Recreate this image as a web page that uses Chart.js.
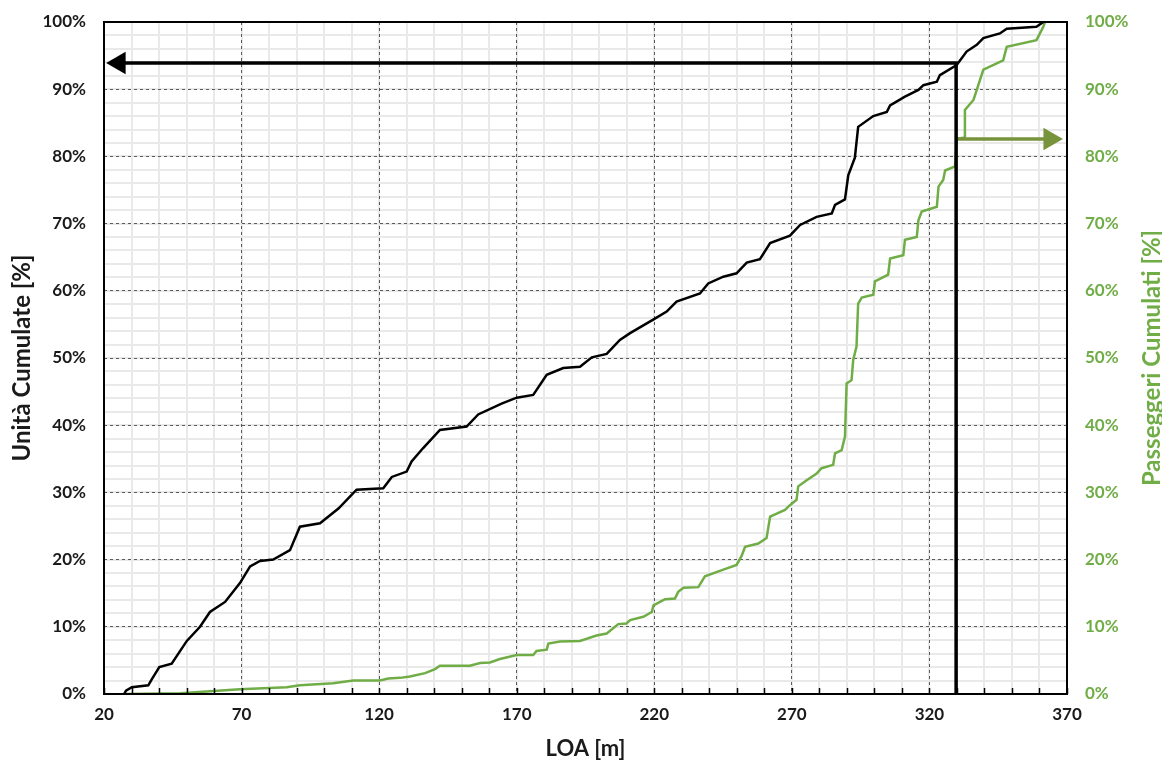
<!DOCTYPE html>
<html>
<head>
<meta charset="utf-8">
<script src="https://cdn.jsdelivr.net/npm/chart.js@4.4.1/dist/chart.umd.min.js"></script>
<style>
  html, body { margin: 0; padding: 0; background: #ffffff; }
  #wrap { width: 1162px; height: 764px; }
</style>
</head>
<body>
<div id="wrap"><canvas id="c" width="1162" height="764"></canvas></div>
<script>
// ---- Data ----
const unitsLOA = [27.3, 28.0, 30.1, 36.1, 37.4, 40.1, 44.6, 50.1, 54.9, 58.5, 64.0, 69.4, 73.1, 76.7, 81.5, 87.6, 91.2, 98.5, 105.2, 111.8, 121.5, 124.6, 130.0, 131.8, 136.0, 142.1, 151.8, 156.0, 164.5, 170.0, 176.0, 180.9, 186.9, 193.0, 197.3, 202.7, 207.5, 211.2, 219.6, 224.5, 228.1, 236.6, 239.6, 245.1, 249.9, 253.6, 258.4, 262.1, 269.3, 273.0, 279.0, 284.5, 285.7, 289.3, 290.5, 292.9, 294.1, 299.6, 304.5, 305.7, 311.1, 316.0, 317.8, 322.7, 323.8, 329.9, 333.5, 337.2, 339.6, 345.6, 348.1, 358.9, 361.4];
const unitsPct = [0, 0.5, 1.0, 1.3, 2.2, 4.0, 4.5, 7.9, 10.0, 12.2, 13.7, 16.5, 19.0, 19.8, 20.0, 21.4, 24.9, 25.4, 27.6, 30.4, 30.6, 32.3, 33.1, 34.6, 36.6, 39.3, 39.8, 41.6, 43.2, 44.1, 44.5, 47.5, 48.5, 48.7, 50.1, 50.6, 52.7, 53.7, 55.7, 56.9, 58.4, 59.6, 61.1, 62.1, 62.6, 64.2, 64.7, 67.1, 68.2, 69.8, 71.0, 71.5, 72.8, 73.6, 77.2, 79.8, 84.4, 86.0, 86.6, 87.6, 88.9, 89.9, 90.6, 91.1, 92.1, 93.6, 95.6, 96.6, 97.6, 98.3, 99.0, 99.3, 100];

const paxLOA = [27.6, 47.6, 69.4, 86.4, 91.2, 103.3, 110.6, 120.3, 123.3, 127.6, 131.2, 136.7, 140.3, 142.1, 153.0, 156.7, 160.3, 163.9, 170.0, 176.0, 177.2, 180.9, 181.5, 185.7, 193.0, 199.0, 202.7, 206.9, 209.9, 211.2, 216.0, 219.1, 219.7, 223.9, 227.5, 228.7, 230.6, 236.0, 238.4, 245.1, 249.9, 251.7, 253.0, 257.8, 260.8, 262.1, 267.5, 269.3, 271.7, 272.3, 275.4, 279.0, 280.8, 285.0, 285.7, 288.1, 289.3, 289.9, 291.7, 292.3, 293.5, 294.1, 295.4, 299.6, 300.2, 305.0, 305.7, 310.5, 311.1, 315.4, 316.0, 317.2, 322.7, 323.3, 325.0, 325.7, 329.3, 329.9, 332.9, 332.9, 336.0, 337.2, 339.6, 346.8, 348.1, 358.9, 361.4, 362.0];
const paxPct = [0, 0.1, 0.7, 1.0, 1.3, 1.6, 2.0, 2.0, 2.3, 2.4, 2.6, 3.1, 3.7, 4.2, 4.2, 4.6, 4.7, 5.2, 5.8, 5.8, 6.4, 6.6, 7.5, 7.8, 7.9, 8.7, 9.0, 10.4, 10.5, 11.0, 11.5, 12.2, 13.2, 14.1, 14.2, 15.2, 15.8, 15.9, 17.5, 18.5, 19.2, 20.5, 21.9, 22.4, 23.2, 26.4, 27.4, 28.1, 28.9, 30.9, 31.8, 32.8, 33.6, 34.1, 35.8, 36.3, 38.3, 46.2, 46.7, 49.7, 51.7, 58.1, 59.0, 59.4, 61.4, 62.4, 64.8, 65.3, 67.6, 68.0, 70.5, 71.8, 72.5, 75.5, 76.5, 77.9, 78.5, 82.6, 82.8, 86.9, 88.4, 89.9, 92.9, 94.3, 96.3, 97.3, 99.3, 100];

// reference lines (LOA 330 m -> 94% units, 82.6% passengers)
const unitsRefLOA = [329.7, 329.7, 25.5];
const unitsRefPct = [0, 93.9, 93.9];
const paxRefLOA = [329.7, 363.8];
const paxRefPct = [82.6, 82.6];

// axes
const xMin = 20, xMax = 370, xStep = 50, xMinorStep = 10;
const yMin = 0, yMax = 100, yStep = 10, yMinorStep = 2;

const toPts = (xs, ys) => xs.map((x, i) => ({x: x, y: ys[i]}));

const FONT = 'Lato, "Open Sans", sans-serif';
const GREEN = '#70AD47';
const OLIVE = '#77933C';

const framePlugin = {
  id: 'frame',
  afterDatasetsDraw(chart) {
    const {ctx, chartArea: a} = chart;
    const xs = chart.scales.xMinor;
    ctx.save();
    ctx.strokeStyle = '#000';
    ctx.lineWidth = 1.5;
    xs.ticks.forEach(t => {
      const px = Math.round(xs.getPixelForValue(t.value)) + 0.5;
      ctx.beginPath();
      ctx.moveTo(px, a.bottom);
      ctx.lineTo(px, a.bottom - 6);
      ctx.stroke();
    });
    ctx.lineWidth = 2;
    ctx.strokeRect(a.left, a.top, a.right - a.left, a.bottom - a.top);
    ctx.restore();
  },
  afterDraw(chart) {
    const {ctx, chartArea: a} = chart;
    ctx.save();
    ctx.translate(1152, (a.top + a.bottom) / 2);
    ctx.rotate(-Math.PI / 2);
    ctx.font = 'bold 24px ' + FONT;
    ctx.fillStyle = GREEN;
    ctx.textAlign = 'center';
    ctx.textBaseline = 'middle';
    ctx.fillText('Passeggeri Cumulati [%]', 0, 0);
    ctx.restore();
  }
};

new Chart(document.getElementById('c'), {
  type: 'line',
  data: {
    datasets: [
      {
        label: 'rif. unità',
        data: toPts(unitsRefLOA, unitsRefPct),
        yAxisID: 'y', xAxisID: 'x',
        borderColor: '#000', backgroundColor: '#000',
        borderWidth: 3.5,
        pointRadius: [0, 0, 13],
        pointStyle: 'triangle',
        pointRotation: 270,
        pointBorderWidth: 0,
        clip: false,
        tension: 0
      },
      {
        label: 'rif. passeggeri',
        data: toPts(paxRefLOA, paxRefPct),
        yAxisID: 'y2', xAxisID: 'x',
        borderColor: OLIVE, backgroundColor: OLIVE,
        borderWidth: 3.5,
        pointRadius: [0, 13],
        pointStyle: 'triangle',
        pointRotation: 90,
        pointBorderWidth: 0,
        clip: false,
        tension: 0
      },
      {
        label: 'Unità Cumulate',
        data: toPts(unitsLOA, unitsPct),
        yAxisID: 'y', xAxisID: 'x',
        borderColor: '#000',
        borderWidth: 2.5,
        pointRadius: 0,
        tension: 0
      },
      {
        label: 'Passeggeri Cumulati',
        data: toPts(paxLOA, paxPct),
        yAxisID: 'y2', xAxisID: 'x',
        borderColor: GREEN,
        borderWidth: 2.5,
        pointRadius: 0,
        tension: 0
      }
    ]
  },
  options: {
    responsive: false,
    animation: false,
    layout: { padding: { top: 22, left: 0, right: 0, bottom: 0 } },
    plugins: { legend: { display: false }, tooltip: { enabled: false } },
    scales: {
      x: {
        type: 'linear', position: 'bottom',
        min: xMin, max: xMax,
        ticks: { stepSize: xStep, color: '#1a1a1a', padding: 10, font: { family: FONT, size: 17, weight: 'bold' } },
        grid: { color: '#5a5a5a', lineWidth: 1, drawTicks: false, z: -1 },
        border: { display: false, dash: [3, 3] },
        title: { display: true, text: 'LOA [m]', color: '#1a1a1a', padding: { top: 0, bottom: 2 }, font: { family: FONT, size: 22, weight: 'bold' } },
        afterFit: s => { s.height = 70; }
      },
      xMinor: {
        type: 'linear', position: 'bottom',
        min: xMin, max: xMax,
        ticks: { stepSize: xMinorStep, display: false },
        grid: { color: '#e9e9e9', lineWidth: 2, drawTicks: false, z: -2 },
        border: { display: false },
        afterFit: s => { s.height = 0; }
      },
      y: {
        type: 'linear', position: 'left',
        min: yMin, max: yMax,
        ticks: { stepSize: yStep, color: '#1a1a1a', padding: 18, callback: v => v + '%', font: { family: FONT, size: 17, weight: 'bold' } },
        grid: { color: '#5a5a5a', lineWidth: 1, drawTicks: false, z: -1 },
        border: { display: false, dash: [3, 3] },
        title: { display: true, text: 'Unità Cumulate [%]', color: '#1a1a1a', padding: { top: 8, bottom: 0 }, font: { family: FONT, size: 24, weight: 'bold' } },
        afterFit: s => { s.width = 104; s.paddingTop = 10; s.paddingBottom = 10; }
      },
      yMinor: {
        type: 'linear', position: 'left',
        min: yMin, max: yMax,
        ticks: { stepSize: yMinorStep, display: false },
        grid: { color: '#e9e9e9', lineWidth: 2, drawTicks: false, z: -2 },
        border: { display: false },
        afterFit: s => { s.width = 0; s.paddingTop = 0; s.paddingBottom = 0; }
      },
      y2: {
        type: 'linear', position: 'right',
        min: yMin, max: yMax,
        ticks: { stepSize: yStep, color: GREEN, padding: 18, callback: v => v + '%', font: { family: FONT, size: 17, weight: 'bold' } },
        grid: { drawOnChartArea: false, drawTicks: false },
        border: { display: false },
        afterFit: s => { s.width = 95; s.paddingTop = 10; s.paddingBottom = 10; }
      }
    }
  },
  plugins: [framePlugin]
});
</script>
</body>
</html>
